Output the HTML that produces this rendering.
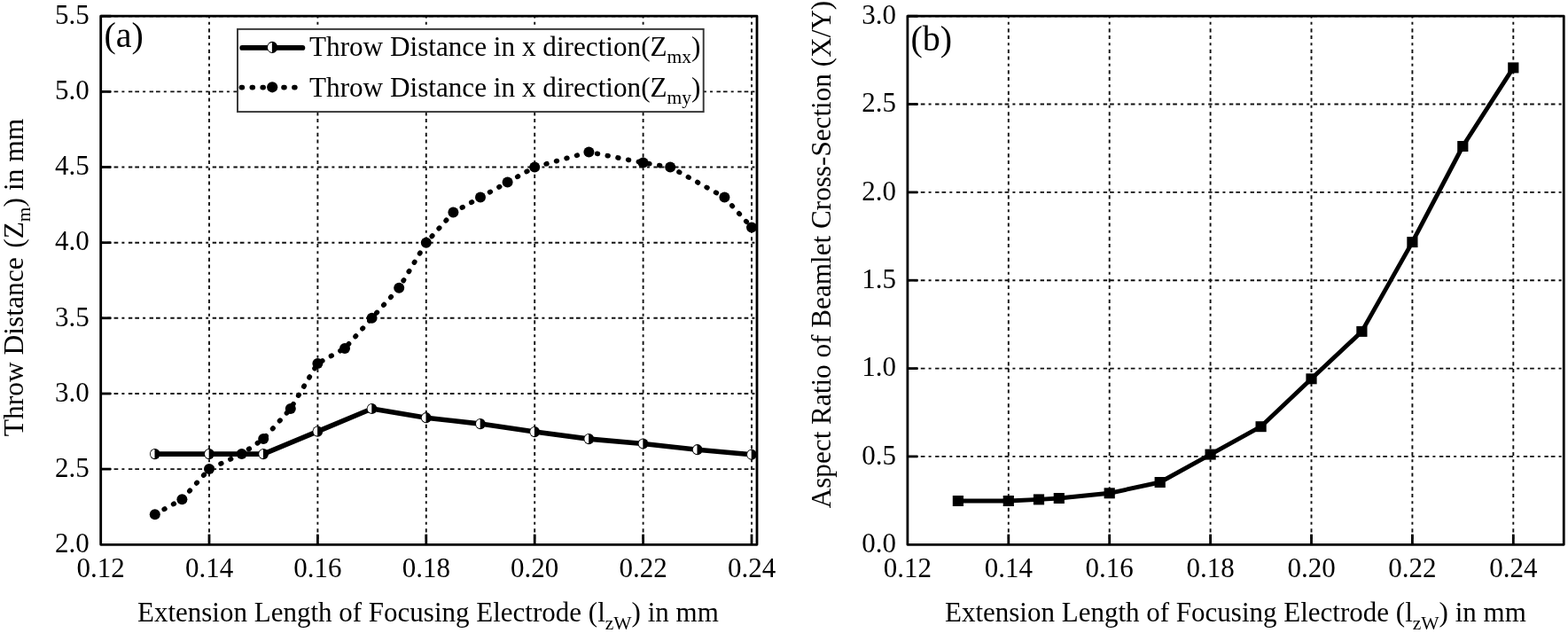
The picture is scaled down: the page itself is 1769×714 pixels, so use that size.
<!DOCTYPE html><html><head><meta charset="utf-8"><title>Throw distance and aspect ratio plots</title>
<style>html,body{margin:0;padding:0;background:#fff;overflow:hidden;}svg{display:block;}text{font-family:"Liberation Serif", "Times New Roman", serif;fill:#000;}</style></head><body>
<svg width="1769" height="714" viewBox="0 0 1769 714">
<rect x="0" y="0" width="1769" height="714" fill="#fff"/>
<line x1="236.0" y1="18.2" x2="236.0" y2="614.3" stroke="#111" stroke-width="1.9" fill="none" stroke-dasharray="3 4.5 4.2 3.4 4.2 4.2" stroke-dashoffset="16.9"/>
<line x1="358.4" y1="18.2" x2="358.4" y2="614.3" stroke="#111" stroke-width="1.9" fill="none" stroke-dasharray="3 4.5 4.2 3.4 4.2 4.2" stroke-dashoffset="16.9"/>
<line x1="480.8" y1="18.2" x2="480.8" y2="614.3" stroke="#111" stroke-width="1.9" fill="none" stroke-dasharray="3 4.5 4.2 3.4 4.2 4.2" stroke-dashoffset="16.9"/>
<line x1="603.2" y1="18.2" x2="603.2" y2="614.3" stroke="#111" stroke-width="1.9" fill="none" stroke-dasharray="3 4.5 4.2 3.4 4.2 4.2" stroke-dashoffset="16.9"/>
<line x1="725.6" y1="18.2" x2="725.6" y2="614.3" stroke="#111" stroke-width="1.9" fill="none" stroke-dasharray="3 4.5 4.2 3.4 4.2 4.2" stroke-dashoffset="16.9"/>
<line x1="848.0" y1="18.2" x2="848.0" y2="614.3" stroke="#111" stroke-width="1.9" fill="none" stroke-dasharray="3 4.5 4.2 3.4 4.2 4.2" stroke-dashoffset="16.9"/>
<line x1="113.7" y1="529.1" x2="854.0" y2="529.1" stroke="#111" stroke-width="1.9" fill="none" stroke-dasharray="3 4.5 4.4 3 4.7 4.1"/>
<line x1="113.7" y1="444.0" x2="854.0" y2="444.0" stroke="#111" stroke-width="1.9" fill="none" stroke-dasharray="3 4.5 4.4 3 4.7 4.1"/>
<line x1="113.7" y1="358.8" x2="854.0" y2="358.8" stroke="#111" stroke-width="1.9" fill="none" stroke-dasharray="3 4.5 4.4 3 4.7 4.1"/>
<line x1="113.7" y1="273.7" x2="854.0" y2="273.7" stroke="#111" stroke-width="1.9" fill="none" stroke-dasharray="3 4.5 4.4 3 4.7 4.1"/>
<line x1="113.7" y1="188.5" x2="854.0" y2="188.5" stroke="#111" stroke-width="1.9" fill="none" stroke-dasharray="3 4.5 4.4 3 4.7 4.1"/>
<line x1="113.7" y1="103.4" x2="854.0" y2="103.4" stroke="#111" stroke-width="1.9" fill="none" stroke-dasharray="3 4.5 4.4 3 4.7 4.1"/>
<line x1="113.7" y1="18.2" x2="854.0" y2="18.2" stroke="#111" stroke-width="1.9" fill="none" stroke-dasharray="3 4.5 4.4 3 4.7 4.1"/>
<rect x="268" y="32.85" width="525.7" height="93.25" fill="#fff" stroke="#333" stroke-width="1.9"/>
<polyline points="174.8,580.2 205.4,563.2 236.0,529.1 272.7,512.1 297.2,495.1 327.8,461.0 358.4,409.9 389.0,392.9 419.6,358.8 450.2,324.8 480.8,273.7 511.4,239.6 542.0,222.6 572.6,205.6 603.2,188.5 664.4,171.5 725.6,183.6 756.2,188.5 817.4,222.6 848.0,256.6" fill="none" stroke="#000" stroke-width="5.6" stroke-dasharray="0.8 11.1" stroke-linecap="round" stroke-linejoin="round"/>
<circle cx="174.8" cy="580.2" r="6.0" fill="#000"/>
<circle cx="205.4" cy="563.2" r="6.0" fill="#000"/>
<circle cx="236.0" cy="529.1" r="6.0" fill="#000"/>
<circle cx="272.7" cy="512.1" r="6.0" fill="#000"/>
<circle cx="297.2" cy="495.1" r="6.0" fill="#000"/>
<circle cx="327.8" cy="461.0" r="6.0" fill="#000"/>
<circle cx="358.4" cy="409.9" r="6.0" fill="#000"/>
<circle cx="389.0" cy="392.9" r="6.0" fill="#000"/>
<circle cx="419.6" cy="358.8" r="6.0" fill="#000"/>
<circle cx="450.2" cy="324.8" r="6.0" fill="#000"/>
<circle cx="480.8" cy="273.7" r="6.0" fill="#000"/>
<circle cx="511.4" cy="239.6" r="6.0" fill="#000"/>
<circle cx="542.0" cy="222.6" r="6.0" fill="#000"/>
<circle cx="572.6" cy="205.6" r="6.0" fill="#000"/>
<circle cx="603.2" cy="188.5" r="6.0" fill="#000"/>
<circle cx="664.4" cy="171.5" r="6.0" fill="#000"/>
<circle cx="725.6" cy="183.6" r="6.0" fill="#000"/>
<circle cx="756.2" cy="188.5" r="6.0" fill="#000"/>
<circle cx="817.4" cy="222.6" r="6.0" fill="#000"/>
<circle cx="848.0" cy="256.6" r="6.0" fill="#000"/>
<polyline points="174.8,512.1 236.0,512.1 297.2,512.1 358.4,486.6 419.6,461.0 480.8,471.2 542.0,478.1 603.2,487.1 664.4,495.1 725.6,500.5 786.8,507.2 848.0,512.8" fill="none" stroke="#000" stroke-width="5.6" stroke-linejoin="round"/>
<ellipse cx="174.8" cy="512.1" rx="5.8" ry="6.1" fill="#000"/><path d="M174.5,507.1 A4.699999999999999,5.0 0 0 0 174.5,517.1 Z" fill="#fff"/>
<ellipse cx="236.0" cy="512.1" rx="5.8" ry="6.1" fill="#000"/><path d="M235.7,507.1 A4.699999999999999,5.0 0 0 0 235.7,517.1 Z" fill="#fff"/>
<ellipse cx="297.2" cy="512.1" rx="5.8" ry="6.1" fill="#000"/><path d="M296.9,507.1 A4.699999999999999,5.0 0 0 0 296.9,517.1 Z" fill="#fff"/>
<ellipse cx="358.4" cy="486.6" rx="5.8" ry="6.1" fill="#000"/><path d="M358.1,481.6 A4.699999999999999,5.0 0 0 0 358.1,491.6 Z" fill="#fff"/>
<ellipse cx="419.6" cy="461.0" rx="5.8" ry="6.1" fill="#000"/><path d="M419.3,456.0 A4.699999999999999,5.0 0 0 0 419.3,466.0 Z" fill="#fff"/>
<ellipse cx="480.8" cy="471.2" rx="5.8" ry="6.1" fill="#000"/><path d="M480.5,466.2 A4.699999999999999,5.0 0 0 0 480.5,476.2 Z" fill="#fff"/>
<ellipse cx="542.0" cy="478.1" rx="5.8" ry="6.1" fill="#000"/><path d="M541.7,473.1 A4.699999999999999,5.0 0 0 0 541.7,483.1 Z" fill="#fff"/>
<ellipse cx="603.2" cy="487.1" rx="5.8" ry="6.1" fill="#000"/><path d="M602.9,482.1 A4.699999999999999,5.0 0 0 0 602.9,492.1 Z" fill="#fff"/>
<ellipse cx="664.4" cy="495.1" rx="5.8" ry="6.1" fill="#000"/><path d="M664.1,490.1 A4.699999999999999,5.0 0 0 0 664.1,500.1 Z" fill="#fff"/>
<ellipse cx="725.6" cy="500.5" rx="5.8" ry="6.1" fill="#000"/><path d="M725.3,495.5 A4.699999999999999,5.0 0 0 0 725.3,505.5 Z" fill="#fff"/>
<ellipse cx="786.8" cy="507.2" rx="5.8" ry="6.1" fill="#000"/><path d="M786.5,502.2 A4.699999999999999,5.0 0 0 0 786.5,512.2 Z" fill="#fff"/>
<ellipse cx="848.0" cy="512.8" rx="5.8" ry="6.1" fill="#000"/><path d="M847.7,507.8 A4.699999999999999,5.0 0 0 0 847.7,517.8 Z" fill="#fff"/>
<rect x="113.7" y="18.2" width="740.30" height="596.1" fill="none" stroke="#000" stroke-width="2.8" stroke-linejoin="round"/>
<line x1="236.0" y1="614.3" x2="236.0" y2="602.6" stroke="#000" stroke-width="2.8"/>
<line x1="358.4" y1="614.3" x2="358.4" y2="602.6" stroke="#000" stroke-width="2.8"/>
<line x1="480.8" y1="614.3" x2="480.8" y2="602.6" stroke="#000" stroke-width="2.8"/>
<line x1="603.2" y1="614.3" x2="603.2" y2="602.6" stroke="#000" stroke-width="2.8"/>
<line x1="725.6" y1="614.3" x2="725.6" y2="602.6" stroke="#000" stroke-width="2.8"/>
<line x1="848.0" y1="614.3" x2="848.0" y2="602.6" stroke="#000" stroke-width="2.8"/>
<line x1="113.7" y1="529.1" x2="125.2" y2="529.1" stroke="#000" stroke-width="2.8"/>
<line x1="113.7" y1="444.0" x2="125.2" y2="444.0" stroke="#000" stroke-width="2.8"/>
<line x1="113.7" y1="358.8" x2="125.2" y2="358.8" stroke="#000" stroke-width="2.8"/>
<line x1="113.7" y1="273.7" x2="125.2" y2="273.7" stroke="#000" stroke-width="2.8"/>
<line x1="113.7" y1="188.5" x2="125.2" y2="188.5" stroke="#000" stroke-width="2.8"/>
<line x1="113.7" y1="103.4" x2="125.2" y2="103.4" stroke="#000" stroke-width="2.8"/>
<line x1="113.7" y1="18.2" x2="125.2" y2="18.2" stroke="#000" stroke-width="2.8"/>
<text x="100.7" y="623.0" font-size="31" text-anchor="end">2.0</text>
<text x="100.7" y="537.8" font-size="31" text-anchor="end">2.5</text>
<text x="100.7" y="452.7" font-size="31" text-anchor="end">3.0</text>
<text x="100.7" y="367.5" font-size="31" text-anchor="end">3.5</text>
<text x="100.7" y="282.4" font-size="31" text-anchor="end">4.0</text>
<text x="100.7" y="197.2" font-size="31" text-anchor="end">4.5</text>
<text x="100.7" y="112.1" font-size="31" text-anchor="end">5.0</text>
<text x="100.7" y="26.9" font-size="31" text-anchor="end">5.5</text>
<text x="113.6" y="651" font-size="31" text-anchor="middle">0.12</text>
<text x="236.0" y="651" font-size="31" text-anchor="middle">0.14</text>
<text x="358.4" y="651" font-size="31" text-anchor="middle">0.16</text>
<text x="480.8" y="651" font-size="31" text-anchor="middle">0.18</text>
<text x="603.2" y="651" font-size="31" text-anchor="middle">0.20</text>
<text x="725.6" y="651" font-size="31" text-anchor="middle">0.22</text>
<text x="848.0" y="651" font-size="31" text-anchor="middle">0.24</text>
<line x1="273.2" y1="53.9" x2="341.4" y2="53.9" stroke="#000" stroke-width="5.8" stroke-linecap="round"/>
<ellipse cx="307.2" cy="53.4" rx="6.0" ry="6.6" fill="#000"/><path d="M306.9,47.9 A4.9,5.5 0 0 0 306.9,58.9 Z" fill="#fff"/>
<line x1="272.5" y1="98.6" x2="335.6" y2="98.6" stroke="#000" stroke-width="5.8" stroke-dasharray="0.8 11.1" stroke-linecap="round"/>
<circle cx="307.2" cy="98.3" r="6.1" fill="#000"/>
<text x="349" y="62.6" font-size="31.2">Throw Distance in x direction(Z<tspan font-size="21.5" dy="8.5">mx</tspan><tspan dy="-8.5">)</tspan></text>
<text x="349" y="108.9" font-size="31.2">Throw Distance in x direction(Z<tspan font-size="21.5" dy="8.5">my</tspan><tspan dy="-8.5">)</tspan></text>
<text x="117.5" y="52.5" font-size="40">(a)</text>
<text x="155" y="701" font-size="31">Extension Length of Focusing Electrode (l<tspan font-size="21.5" dy="8.5">zW</tspan><tspan dy="-8.5">) in mm</tspan></text>
<text transform="translate(26.2,492.3) rotate(-90)" x="0" y="0" font-size="31.5">Throw Distance <tspan dx="2.5">(Z</tspan><tspan font-size="21.5" dy="8">m</tspan><tspan dy="-8">) in mm</tspan></text>
<line x1="1137.8" y1="18.2" x2="1137.8" y2="614.3" stroke="#111" stroke-width="1.9" fill="none" stroke-dasharray="3 4.5 4.2 3.4 4.2 4.2" stroke-dashoffset="16.9"/>
<line x1="1251.7" y1="18.2" x2="1251.7" y2="614.3" stroke="#111" stroke-width="1.9" fill="none" stroke-dasharray="3 4.5 4.2 3.4 4.2 4.2" stroke-dashoffset="16.9"/>
<line x1="1365.6" y1="18.2" x2="1365.6" y2="614.3" stroke="#111" stroke-width="1.9" fill="none" stroke-dasharray="3 4.5 4.2 3.4 4.2 4.2" stroke-dashoffset="16.9"/>
<line x1="1479.5" y1="18.2" x2="1479.5" y2="614.3" stroke="#111" stroke-width="1.9" fill="none" stroke-dasharray="3 4.5 4.2 3.4 4.2 4.2" stroke-dashoffset="16.9"/>
<line x1="1593.4" y1="18.2" x2="1593.4" y2="614.3" stroke="#111" stroke-width="1.9" fill="none" stroke-dasharray="3 4.5 4.2 3.4 4.2 4.2" stroke-dashoffset="16.9"/>
<line x1="1707.3" y1="18.2" x2="1707.3" y2="614.3" stroke="#111" stroke-width="1.9" fill="none" stroke-dasharray="3 4.5 4.2 3.4 4.2 4.2" stroke-dashoffset="16.9"/>
<line x1="1023.9" y1="514.9" x2="1764.2" y2="514.9" stroke="#111" stroke-width="1.9" fill="none" stroke-dasharray="3 4.5 4.4 3 4.7 4.1"/>
<line x1="1023.9" y1="415.6" x2="1764.2" y2="415.6" stroke="#111" stroke-width="1.9" fill="none" stroke-dasharray="3 4.5 4.4 3 4.7 4.1"/>
<line x1="1023.9" y1="316.2" x2="1764.2" y2="316.2" stroke="#111" stroke-width="1.9" fill="none" stroke-dasharray="3 4.5 4.4 3 4.7 4.1"/>
<line x1="1023.9" y1="216.9" x2="1764.2" y2="216.9" stroke="#111" stroke-width="1.9" fill="none" stroke-dasharray="3 4.5 4.4 3 4.7 4.1"/>
<line x1="1023.9" y1="117.5" x2="1764.2" y2="117.5" stroke="#111" stroke-width="1.9" fill="none" stroke-dasharray="3 4.5 4.4 3 4.7 4.1"/>
<line x1="1023.9" y1="18.2" x2="1764.2" y2="18.2" stroke="#111" stroke-width="1.9" fill="none" stroke-dasharray="3 4.5 4.4 3 4.7 4.1"/>
<polyline points="1080.9,565.0 1137.8,565.0 1172.0,563.4 1194.8,562.0 1251.7,556.3 1308.7,544.0 1365.6,512.6 1422.5,481.2 1479.5,427.3 1536.4,373.9 1593.4,273.1 1650.3,165.0 1707.3,76.4" fill="none" stroke="#000" stroke-width="4.9" stroke-linejoin="round"/>
<rect x="1074.8" y="559.0" width="12.2" height="12" fill="#000"/>
<rect x="1131.7" y="559.0" width="12.2" height="12" fill="#000"/>
<rect x="1165.9" y="557.4" width="12.2" height="12" fill="#000"/>
<rect x="1188.7" y="556.0" width="12.2" height="12" fill="#000"/>
<rect x="1245.6" y="550.3" width="12.2" height="12" fill="#000"/>
<rect x="1302.6" y="538.0" width="12.2" height="12" fill="#000"/>
<rect x="1359.5" y="506.6" width="12.2" height="12" fill="#000"/>
<rect x="1416.5" y="475.2" width="12.2" height="12" fill="#000"/>
<rect x="1473.4" y="421.3" width="12.2" height="12" fill="#000"/>
<rect x="1530.3" y="367.9" width="12.2" height="12" fill="#000"/>
<rect x="1587.3" y="267.1" width="12.2" height="12" fill="#000"/>
<rect x="1644.2" y="159.0" width="12.2" height="12" fill="#000"/>
<rect x="1701.2" y="70.4" width="12.2" height="12" fill="#000"/>
<rect x="1023.9" y="18.2" width="740.35" height="596.1" fill="none" stroke="#000" stroke-width="2.8" stroke-linejoin="round"/>
<line x1="1137.8" y1="614.3" x2="1137.8" y2="602.6" stroke="#000" stroke-width="2.8"/>
<line x1="1251.7" y1="614.3" x2="1251.7" y2="602.6" stroke="#000" stroke-width="2.8"/>
<line x1="1365.6" y1="614.3" x2="1365.6" y2="602.6" stroke="#000" stroke-width="2.8"/>
<line x1="1479.5" y1="614.3" x2="1479.5" y2="602.6" stroke="#000" stroke-width="2.8"/>
<line x1="1593.4" y1="614.3" x2="1593.4" y2="602.6" stroke="#000" stroke-width="2.8"/>
<line x1="1707.3" y1="614.3" x2="1707.3" y2="602.6" stroke="#000" stroke-width="2.8"/>
<line x1="1023.9" y1="514.9" x2="1035.4" y2="514.9" stroke="#000" stroke-width="2.8"/>
<line x1="1023.9" y1="415.6" x2="1035.4" y2="415.6" stroke="#000" stroke-width="2.8"/>
<line x1="1023.9" y1="316.2" x2="1035.4" y2="316.2" stroke="#000" stroke-width="2.8"/>
<line x1="1023.9" y1="216.9" x2="1035.4" y2="216.9" stroke="#000" stroke-width="2.8"/>
<line x1="1023.9" y1="117.5" x2="1035.4" y2="117.5" stroke="#000" stroke-width="2.8"/>
<line x1="1023.9" y1="18.2" x2="1035.4" y2="18.2" stroke="#000" stroke-width="2.8"/>
<text x="1010.9" y="623.0" font-size="31" text-anchor="end">0.0</text>
<text x="1010.9" y="523.6" font-size="31" text-anchor="end">0.5</text>
<text x="1010.9" y="424.3" font-size="31" text-anchor="end">1.0</text>
<text x="1010.9" y="324.9" font-size="31" text-anchor="end">1.5</text>
<text x="1010.9" y="225.6" font-size="31" text-anchor="end">2.0</text>
<text x="1010.9" y="126.2" font-size="31" text-anchor="end">2.5</text>
<text x="1010.9" y="26.9" font-size="31" text-anchor="end">3.0</text>
<text x="1023.9" y="651" font-size="31" text-anchor="middle">0.12</text>
<text x="1137.8" y="651" font-size="31" text-anchor="middle">0.14</text>
<text x="1251.7" y="651" font-size="31" text-anchor="middle">0.16</text>
<text x="1365.6" y="651" font-size="31" text-anchor="middle">0.18</text>
<text x="1479.5" y="651" font-size="31" text-anchor="middle">0.20</text>
<text x="1593.4" y="651" font-size="31" text-anchor="middle">0.22</text>
<text x="1707.3" y="651" font-size="31" text-anchor="middle">0.24</text>
<text x="1027.5" y="56.5" font-size="40">(b)</text>
<text x="1066" y="701" font-size="31">Extension Length of Focusing Electrode (l<tspan font-size="21.5" dy="8.5">zW</tspan><tspan dy="-8.5">) in mm</tspan></text>
<text transform="translate(936.5,573.3) rotate(-90)" x="0" y="0" font-size="31.2">Aspect Ratio of Beamlet Cross-Section (X/Y)</text>
</svg></body></html>
